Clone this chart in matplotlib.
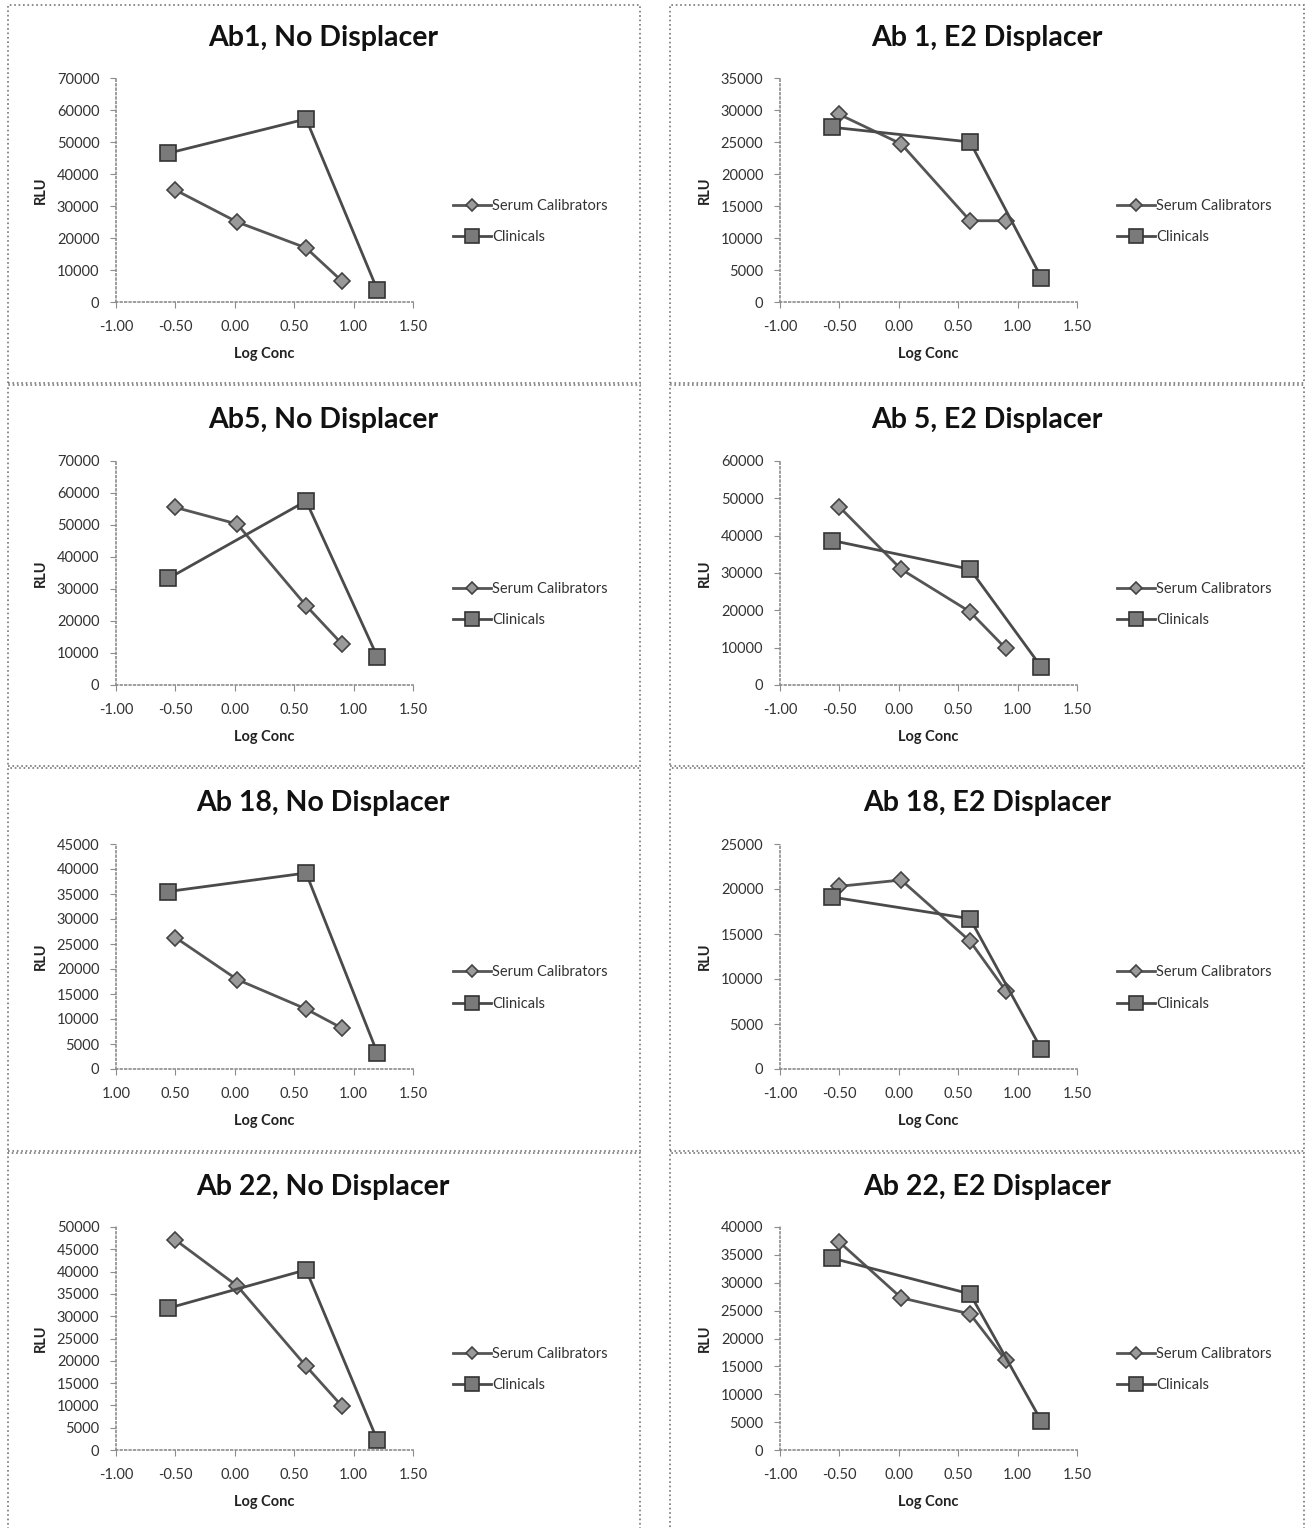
import matplotlib
matplotlib.use("Agg")
import matplotlib.pyplot as plt
from matplotlib.patches import Rectangle

plt.rcParams["font.family"] = ["Lato", "DejaVu Sans"]
plt.rcParams["axes.unicode_minus"] = False

# x positions (log concentration)
serum_x = [-0.50, 0.02, 0.60, 0.90]
clin_x = [-0.56, 0.60, 1.20]

titles = [
    "Ab1, No Displacer", "Ab 1, E2 Displacer",
    "Ab5, No Displacer", "Ab 5, E2 Displacer",
    "Ab 18, No Displacer", "Ab 18, E2 Displacer",
    "Ab 22, No Displacer", "Ab 22, E2 Displacer",
]

# RLU values
ab1_no_serum = [35000, 25000, 16900, 6600]
ab1_no_clin = [46500, 57200, 3800]
ab1_e2_serum = [29300, 24700, 12700, 12700]
ab1_e2_clin = [27300, 25000, 3800]
ab5_no_serum = [55500, 50300, 24800, 12900]
ab5_no_clin = [33300, 57500, 8800]
ab5_e2_serum = [47700, 31000, 19600, 9800]
ab5_e2_clin = [38700, 31000, 4800]
ab18_no_serum = [26300, 17900, 12000, 8200]
ab18_no_clin = [35500, 39200, 3200]
ab18_e2_serum = [20300, 21000, 14200, 8700]
ab18_e2_clin = [19100, 16700, 2200]
ab22_no_serum = [47100, 36800, 18800, 9900]
ab22_no_clin = [31800, 40400, 2200]
ab22_e2_serum = [37300, 27300, 24400, 16100]
ab22_e2_clin = [34400, 28000, 5200]

y_max = [70000, 35000, 70000, 60000, 45000, 25000, 50000, 40000]
y_step = [10000, 5000, 10000, 10000, 5000, 5000, 5000, 5000]

x_ticks = [-1.0, -0.5, 0.0, 0.5, 1.0, 1.5]
x_labels = ["-1.00", "-0.50", "0.00", "0.50", "1.00", "1.50"]
x_labels_ab18 = ["1.00", "0.50", "0.00", "0.50", "1.00", "1.50"]

serum_sets = [ab1_no_serum, ab1_e2_serum, ab5_no_serum, ab5_e2_serum,
              ab18_no_serum, ab18_e2_serum, ab22_no_serum, ab22_e2_serum]
clin_sets = [ab1_no_clin, ab1_e2_clin, ab5_no_clin, ab5_e2_clin,
             ab18_no_clin, ab18_e2_clin, ab22_no_clin, ab22_e2_clin]

W, H = 1306, 1528
fig = plt.figure(figsize=(W / 100, H / 100), dpi=100)
fig.patch.set_facecolor("white")

# panel layout in pixels
col_left = [116, 780]
col_right = [413, 1077]
row_top = [78, 461, 844, 1227]
row_bottom = [302, 685, 1069, 1450]
title_y = [38, 420, 803, 1187]
title_x = [323, 987]
box_x = [(8, 640), (670, 1304)]
box_y = [(5, 383), (385, 766), (768, 1151), (1153, 1540)]

grey = "#8c8c8c"
line_col = "#555555"

for i in range(8):
    r, c = divmod(i, 2)
    l, rr = col_left[c], col_right[c]
    t, b = row_top[r], row_bottom[r]
    ax = fig.add_axes([l / W, 1 - b / H, (rr - l) / W, (b - t) / H])

    ax.plot(serum_x, serum_sets[i], color=line_col, lw=2, marker="D", ms=8,
            mfc="#9a9a9a", mec="#444444", mew=1.2, label="Serum Calibrators")
    ax.plot(clin_x, clin_sets[i], color="#4a4a4a", lw=2, marker="s", ms=12,
            mfc="#7a7a7a", mec="#333333", mew=1.2, label="Clinicals")

    ax.set_xlim(-1.0, 1.5)
    ax.set_ylim(0, y_max[i])
    ax.set_xticks(x_ticks)
    ax.set_xticklabels(x_labels_ab18 if i == 4 else x_labels)
    ax.set_yticks(range(0, y_max[i] + 1, y_step[i]))
    ax.set_yticklabels([str(v) for v in range(0, y_max[i] + 1, y_step[i])])

    for side in ["top", "right"]:
        ax.spines[side].set_visible(False)
    for side in ["left", "bottom"]:
        ax.spines[side].set_linestyle(":")
        ax.spines[side].set_color(grey)
        ax.spines[side].set_linewidth(1.2)
    ax.tick_params(direction="out", length=4, color=grey, labelsize=10.5,
                   labelcolor="#333333")
    ax.tick_params(axis="x", pad=9)
    ax.tick_params(axis="y", pad=8)

    ax.set_ylabel("RLU", fontsize=10.5, fontweight="bold", color="#222222")
    ax.yaxis.set_label_coords(-0.23, 0.5)
    ax.set_xlabel("Log Conc", fontsize=10.5, fontweight="bold", color="#222222")
    ax.xaxis.set_label_coords(0.5, -0.2)

    ax.legend(loc="center left", bbox_to_anchor=(1.09, 0.36), frameon=False,
              fontsize=10.5, handlelength=2.6, handletextpad=0.1,
              labelspacing=1.2, labelcolor="#333333", markerscale=0.8)

    fig.text(title_x[c] / W, 1 - title_y[r] / H, titles[i], ha="center",
             va="center", fontsize=20.5, fontweight="bold", color="#111111")

    x0, x1 = box_x[c]
    y0, y1 = box_y[r]
    fig.patches.append(Rectangle((x0 / W, 1 - y1 / H), (x1 - x0) / W,
                                 (y1 - y0) / H, transform=fig.transFigure,
                                 fill=False, ls=":", lw=1.2, ec="#777777"))

fig.savefig("out.png", dpi=100)
